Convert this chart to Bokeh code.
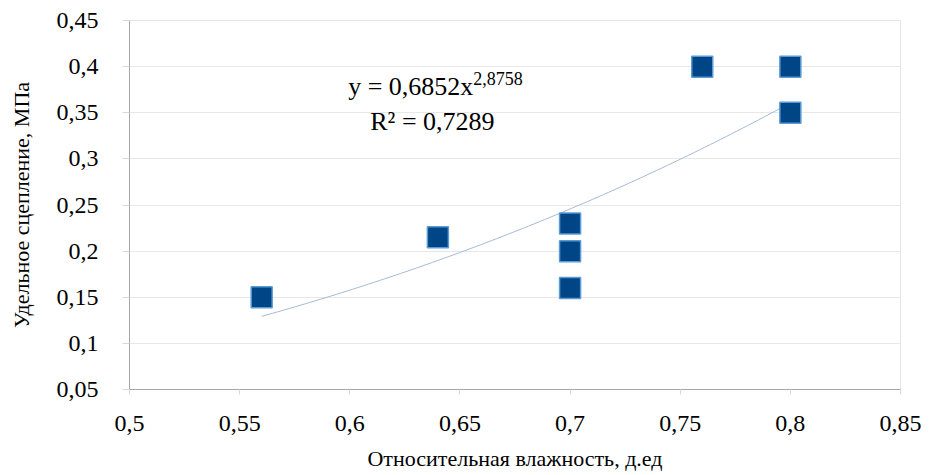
from bokeh.plotting import figure
from bokeh.models import FixedTicker, Range1d, Label, CustomJSTickFormatter
from bokeh.embed import file_html
from bokeh.resources import INLINE
import numpy as np

# data
moisture = [0.56, 0.64, 0.70, 0.70, 0.70, 0.76, 0.80, 0.80]
cohesion = [0.15, 0.215, 0.23, 0.20, 0.16, 0.40, 0.40, 0.35]

x_ticks = [0.5, 0.55, 0.6, 0.65, 0.7, 0.75, 0.8, 0.85]
x_tick_labels = ["0,5", "0,55", "0,6", "0,65", "0,7", "0,75", "0,8", "0,85"]
y_ticks = [0.05, 0.1, 0.15, 0.2, 0.25, 0.3, 0.35, 0.4, 0.45]
y_tick_labels = ["0,05", "0,1", "0,15", "0,2", "0,25", "0,3", "0,35", "0,4", "0,45"]

# power trendline y = a * x^b (as shown on chart)
trend_a = 0.6852
trend_b = 2.8758
eq_text = "y = 0,6852x"
eq_exp = "2,8758"
r2_text = "R² = 0,7289"

FONT = "Liberation Serif"

p = figure(width=925, height=473, output_backend="svg", toolbar_location=None,
           x_range=Range1d(0.5, 0.85), y_range=Range1d(0.05, 0.45),
           min_border_left=129, min_border_right=25, min_border_top=20,
           min_border_bottom=82)
p.background_fill_color = "white"
p.border_fill_color = "white"
p.outline_line_color = "#e6e6e6"

def fmt(tv, tl):
    return CustomJSTickFormatter(args=dict(tvals=tv, tlabels=tl), code="""
        for (let i = 0; i < tvals.length; i++) {
            if (Math.abs(tvals[i] - tick) < 1e-9) { return tlabels[i]; }
        }
        return String(tick).replace('.', ',');
    """)

xax = p.xaxis[0]
yax = p.yaxis[0]
xax.ticker = FixedTicker(ticks=x_ticks)
yax.ticker = FixedTicker(ticks=y_ticks)
xax.formatter = fmt(x_ticks, x_tick_labels)
yax.formatter = fmt(y_ticks, y_tick_labels)

for ax in (xax, yax):
    ax.axis_line_color = "#a6a6a6"
    ax.axis_line_width = 1
    ax.major_tick_line_color = "#d9d9d9"
    ax.minor_tick_line_color = None
    ax.major_tick_in = 0
    ax.major_label_text_font = FONT
    ax.major_label_text_font_size = "24px"
    ax.major_label_text_font_style = "normal"
    ax.major_label_text_color = "black"
    ax.axis_label_text_font = FONT
    ax.axis_label_text_font_size = "22px"
    ax.axis_label_text_font_style = "normal"
    ax.axis_label_text_color = "black"

xax.major_tick_out = 5
yax.major_tick_out = 7
xax.major_label_standoff = 21
yax.major_label_standoff = 24
xax.axis_label = "Относительная влажность, д.ед"
yax.axis_label = "Удельное сцепление, МПа"
xax.axis_label_standoff = 12
yax.axis_label_standoff = 20

p.xgrid.grid_line_color = None
p.ygrid.grid_line_color = "#e8e8e8"
p.ygrid.grid_line_width = 1

# trendline over data span
xs = np.linspace(min(moisture), max(moisture), 100)
ys = trend_a * xs ** trend_b
p.line(xs, ys, line_color="#a4bad8", line_width=1)

p.scatter(moisture, cohesion, marker="square", size=21,
          fill_color="#004586", line_color="#5b9bd5", line_width=1.5)

p.add_layout(Label(x=0.6561, y=0.378, text=eq_text, text_font=FONT,
                   text_font_size="26px", text_align="right",
                   text_baseline="middle", text_color="black"))
p.add_layout(Label(x=0.6561, y=0.378, text=eq_exp, text_font=FONT,
                   text_font_size="18px", text_align="left",
                   text_baseline="middle", y_offset=8,
                   text_color="black"))
p.add_layout(Label(x=0.6375, y=0.34, text=r2_text, text_font=FONT,
                   text_font_size="26px", text_align="center",
                   text_baseline="middle", text_color="black"))

open("out.html", "w").write(file_html(p, INLINE))
